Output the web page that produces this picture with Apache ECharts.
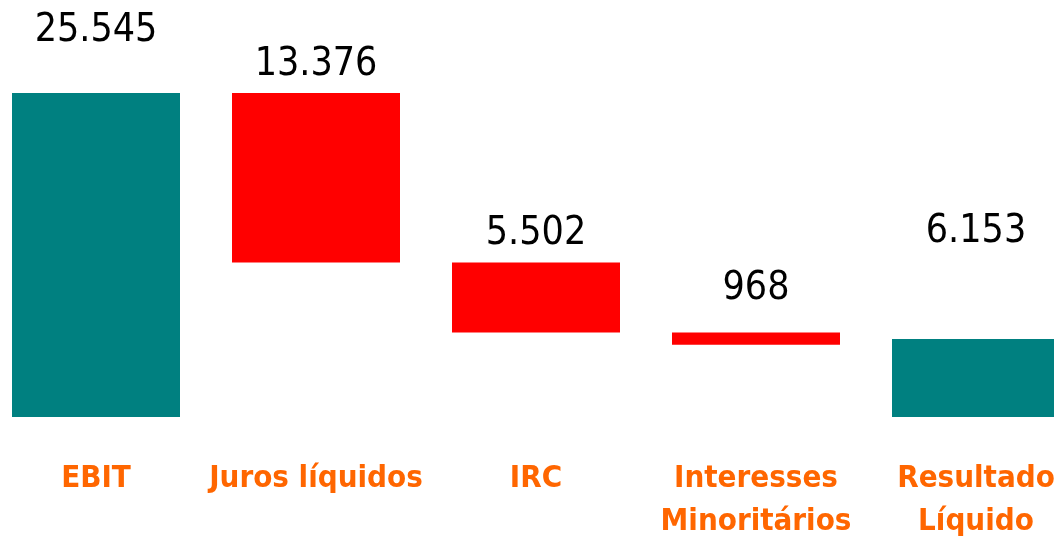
<!DOCTYPE html>
<html>
<head>
<meta charset="utf-8">
<script src="https://cdn.jsdelivr.net/npm/echarts@6/dist/echarts.min.js"></script>
<style>
  html, body { margin: 0; padding: 0; background: #fff; }
  #chart { width: 1054px; height: 540px; }
</style>
</head>
<body>
<div id="chart"></div>
<script>
// waterfall data
const categories = ['EBIT', 'Juros líquidos', 'IRC', 'Interesses\nMinoritários', 'Resultado\nLíquido']
const values = [25545, 13376, 5502, 968, 6153]
const kinds = ['total', 'down', 'down', 'down', 'total']

// label lift above each bar (style only)
const labelLift = [43, 9, 9, 24, 88]

const teal = '#008080'
const red = '#FF0000'
const orange = '#FF6600'
const font = '"DejaVu Sans Condensed", "Liberation Sans Narrow", sans-serif'

// running level for the floating bars
let level = 0
const bases = values.map((v, i) => {
  if (kinds[i] === 'total') {
    level = v
    return 0
  }
  level = level - v
  return level
})

function fmt(v) {
  return String(v).replace(/\B(?=(\d{3})+(?!\d))/g, '.')
}

const chart = echarts.init(document.getElementById('chart'))
chart.setOption({
  animation: false,
  grid: { left: -14, right: -32, top: 11, bottom: 123, outerBoundsMode: 'none', containLabel: false },
  xAxis: {
    type: 'category',
    data: categories,
    axisLine: { show: false },
    axisTick: { show: false },
    axisLabel: {
      color: orange,
      fontFamily: font,
      fontWeight: 'bold',
      fontSize: 31,
      lineHeight: 43,
      margin: 40,
      interval: 0
    }
  },
  yAxis: {
    type: 'value',
    min: 0,
    max: 32000,
    show: false,
    splitLine: { show: false }
  },
  series: [
    {
      type: 'bar',
      stack: 'w',
      data: bases,
      itemStyle: { color: 'transparent' },
      barWidth: 168,
      silent: true
    },
    {
      type: 'bar',
      stack: 'w',
      barWidth: 168,
      data: values.map((v, i) => ({
        value: v,
        itemStyle: { color: kinds[i] === 'total' ? teal : red },
        label: { distance: labelLift[i] }
      })),
      label: {
        show: true,
        position: 'top',
        color: '#000',
        fontFamily: font,
        fontSize: 39,
        formatter: p => fmt(p.value)
      }
    }
  ]
})
</script>
</body>
</html>
